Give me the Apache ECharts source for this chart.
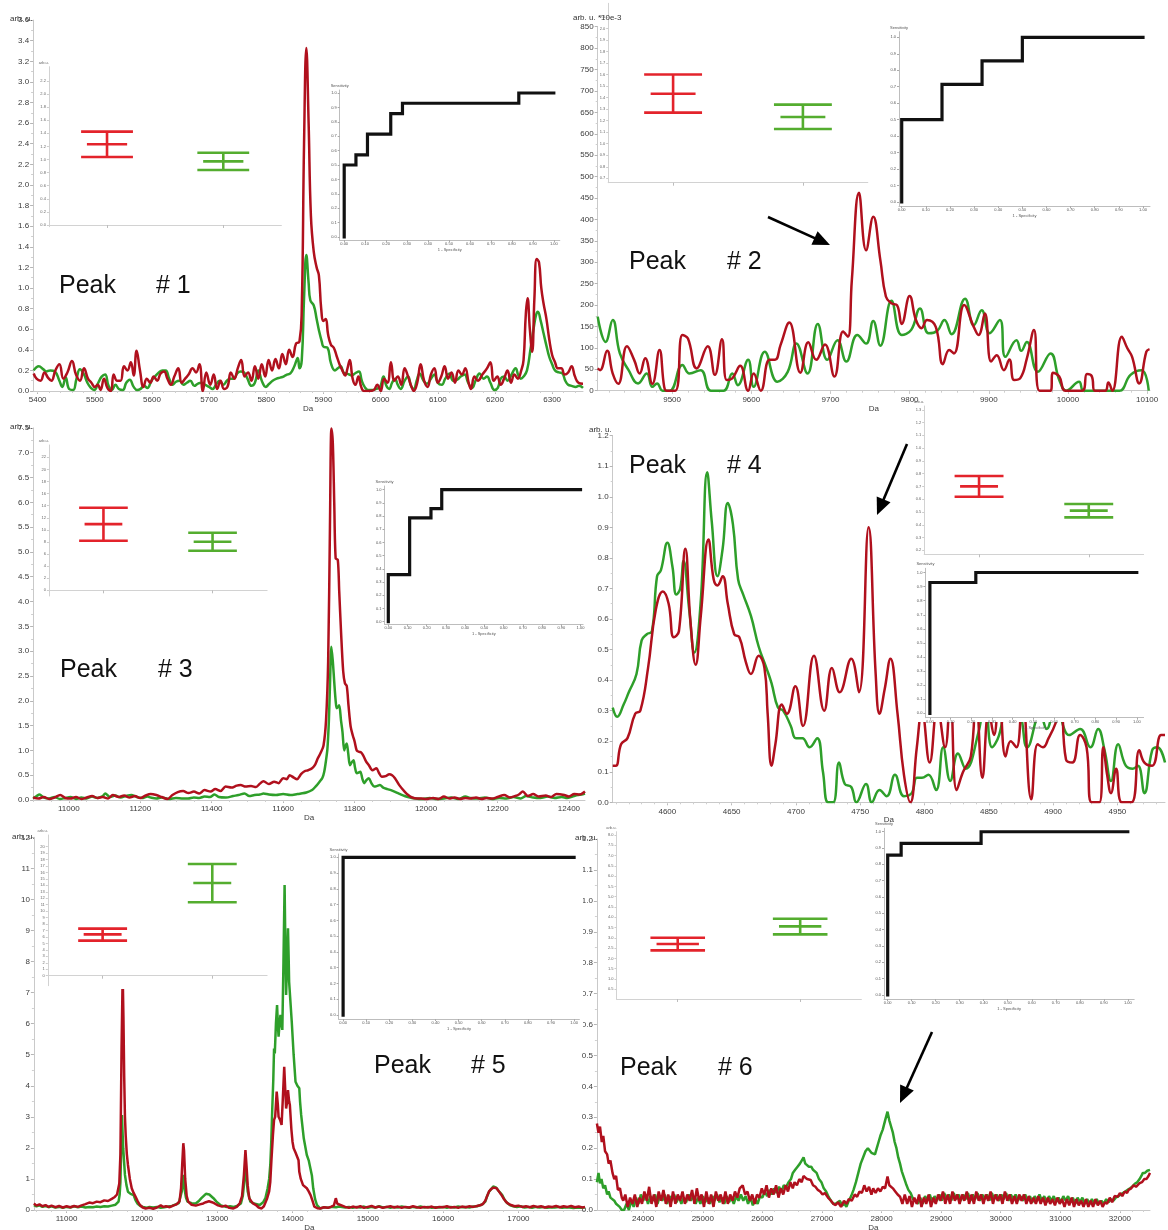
<!DOCTYPE html>
<html><head><meta charset="utf-8">
<script src="https://cdn.jsdelivr.net/npm/echarts@6/dist/echarts.min.js"></script>
<style>html,body{margin:0;padding:0;background:#fff}#c{width:1168px;height:1230px}</style>
</head><body><div id="c"></div>
<script>
// ---------------- DATA ----------------
const groups = ['1', '2'];
const rocTicks = [0,0.1,0.2,0.3,0.4,0.5,0.6,0.7,0.8,0.9,1.0];

// Panel 1
const p1XTicks = [5400,5500,5600,5700,5800,5900,6000,6100,6200,6300];
const p1Red = [[5393,0.17],[5398,0.12],[5405,0.10],[5412,0.18],[5418,0.13],[5424,0.10],[5431,0.20],[5438,0.26],[5445,0.12],[5452,0.18],[5460,0.29],[5467,0.16],[5474,0.10],[5481,0.22],[5488,0.12],[5494,0.08],[5500,0.04],[5505,0.06],[5510,0.01],[5516,0.12],[5522,0.03],[5528,0.00],[5533,0.16],[5539,0.10],[5545,0.10],[5551,0.24],[5557,0.20],[5563,0.28],[5568,0.15],[5573,0.39],[5579,0.20],[5585,0.04],[5591,0.12],[5597,0.08],[5603,0.14],[5609,0.10],[5615,0.17],[5621,0.19],[5627,0.12],[5633,0.06],[5639,0.14],[5646,0.22],[5652,0.08],[5658,0.12],[5664,0.16],[5671,0.22],[5677,0.18],[5683,0.26],[5689,0.00],[5695,0.18],[5702,0.06],[5708,0.16],[5714,0.02],[5720,0.10],[5726,0.02],[5732,0.04],[5738,0.18],[5744,0.12],[5750,0.22],[5756,0.30],[5762,0.14],[5768,0.18],[5774,0.10],[5780,0.24],[5786,0.12],[5792,0.26],[5798,0.14],[5804,0.30],[5810,0.20],[5816,0.31],[5822,0.22],[5828,0.36],[5834,0.26],[5840,0.40],[5846,0.33],[5852,0.46],[5858,0.48],[5862,0.80],[5866,2.40],[5870,3.33],[5874,2.60],[5878,1.70],[5883,1.35],[5888,1.20],[5892,1.12],[5896,0.80],[5900,0.68],[5904,0.70],[5908,0.55],[5913,0.45],[5918,0.42],[5923,0.34],[5928,0.26],[5933,0.20],[5938,0.15],[5942,0.22],[5946,0.30],[5951,0.12],[5956,0.06],[5961,0.14],[5966,0.04],[5971,0.00],[5980,0.00],[5988,0.01],[5994,0.06],[6000,0.00],[6006,0.12],[6012,0.08],[6018,0.28],[6024,0.10],[6030,0.14],[6036,0.06],[6042,0.22],[6048,0.14],[6054,0.04],[6058,0.00],[6064,0.08],[6070,0.26],[6076,0.10],[6082,0.04],[6088,0.16],[6094,0.22],[6100,0.08],[6106,0.14],[6112,0.24],[6118,0.12],[6124,0.18],[6130,0.08],[6136,0.20],[6142,0.16],[6148,0.22],[6154,0.08],[6158,0.02],[6164,0.14],[6170,0.10],[6178,0.16],[6186,0.22],[6192,0.28],[6198,0.10],[6204,0.14],[6210,0.06],[6216,0.12],[6222,0.20],[6228,0.08],[6234,0.16],[6240,0.12],[6246,0.20],[6250,0.30],[6254,0.75],[6257,0.90],[6261,0.60],[6265,0.38],[6269,0.90],[6273,1.28],[6277,1.25],[6281,1.00],[6285,0.85],[6290,0.70],[6295,0.50],[6300,0.35],[6305,0.28],[6310,0.22],[6316,0.22],[6322,0.16],[6328,0.18],[6334,0.24],[6340,0.14],[6346,0.08],[6354,0.07]];
const p1Green = [[5393,0.20],[5402,0.24],[5410,0.21],[5415,0.19],[5422,0.2],[5430,0.19],[5438,0.1],[5443,0.04],[5449,0.13],[5455,0.02],[5462,0.01],[5468,0.12],[5474,0.21],[5481,0.16],[5487,0.08],[5493,0.03],[5499,0.01],[5506,0.08],[5512,0.14],[5518,0.16],[5524,0.05],[5530,0.01],[5536,0.06],[5542,0.02],[5549,0.01],[5555,0.08],[5561,0.11],[5568,0.04],[5574,0.01],[5580,0.02],[5586,0.05],[5592,0.03],[5599,0.1],[5605,0.14],[5612,0.18],[5618,0.2],[5624,0.2],[5630,0.12],[5636,0.06],[5642,0.09],[5648,0.1],[5655,0.06],[5661,0.08],[5667,0.1],[5674,0.05],[5680,0.07],[5686,0.08],[5693,0.06],[5700,0.04],[5706,0.02],[5712,0.06],[5718,0.1],[5725,0.06],[5731,0.1],[5737,0.12],[5743,0.12],[5749,0.17],[5755,0.19],[5761,0.18],[5767,0.12],[5774,0.05],[5780,0.08],[5786,0.2],[5792,0.1],[5799,0.04],[5805,0.07],[5811,0.1],[5818,0.12],[5824,0.13],[5830,0.14],[5836,0.16],[5842,0.17],[5849,0.24],[5855,0.32],[5858,0.22],[5862,0.3],[5866,0.9],[5870,1.32],[5874,1.05],[5877,0.88],[5883,0.83],[5888,0.7],[5892,0.59],[5897,0.48],[5900,0.43],[5907,0.42],[5913,0.27],[5920,0.2],[5925,0.22],[5930,0.24],[5935,0.18],[5940,0.17],[5945,0.16],[5949,0.15],[5955,0.17],[5962,0.19],[5967,0.1],[5972,0.04],[5978,0.01],[5985,0.01],[5992,0.02],[5999,0.04],[6005,0.14],[6010,0.05],[6015,0.02],[6020,0.08],[6025,0.12],[6030,0.06],[6035,0.02],[6042,0.1],[6048,0.14],[6053,0.05],[6058,0.02],[6063,0.1],[6068,0.17],[6075,0.1],[6081,0.07],[6088,0.12],[6094,0.16],[6100,0.08],[6107,0.06],[6113,0.12],[6120,0.17],[6127,0.1],[6134,0.11],[6140,0.14],[6147,0.16],[6153,0.08],[6160,0.03],[6166,0.1],[6173,0.17],[6180,0.12],[6186,0.14],[6192,0.08],[6199,0.01],[6205,0.03],[6210,0.12],[6216,0.14],[6222,0.1],[6229,0.16],[6236,0.22],[6241,0.15],[6245,0.12],[6250,0.14],[6256,0.2],[6262,0.4],[6268,0.62],[6272,0.74],[6275,0.77],[6280,0.68],[6285,0.56],[6290,0.44],[6295,0.33],[6300,0.26],[6305,0.2],[6312,0.18],[6318,0.17],[6323,0.1],[6328,0.06],[6334,0.05],[6341,0.04],[6347,0.05],[6354,0.03]];
const err1Ticks = [0,0.2,0.4,0.6,0.8,1.0,1.2,1.4,1.6,1.8,2.0,2.2];
const err1Mean = [1.232, 0.972];
const err1Low = [1.038, 0.84];
const err1High = [1.425, 1.104];
const roc1 = [[0,0],[0,0.5],[0.056,0.5],[0.056,0.571],[0.111,0.571],[0.111,0.714],[0.222,0.714],[0.222,0.857],[0.278,0.857],[0.278,0.929],[0.833,0.929],[0.833,1],[1,1]];

// Panel 2
const p2XTicks = [9500,9600,9700,9800,9900,10000,10100];
const p2Red = [[9406,52],[9409,48],[9418,93],[9425,40],[9432,16],[9443,104],[9452,72],[9459,40],[9466,76],[9475,16],[9484,95],[9490,9],[9493,0],[9504,0],[9513,130],[9520,122],[9531,52],[9545,104],[9554,37],[9563,120],[9569,25],[9576,29],[9586,58],[9596,0],[9603,40],[9612,0],[9623,72],[9630,72],[9637,107],[9648,159],[9662,42],[9672,113],[9682,72],[9693,108],[9705,33],[9716,138],[9722,126],[9727,258],[9736,462],[9745,328],[9754,406],[9763,305],[9770,220],[9777,204],[9784,200],[9790,156],[9800,221],[9808,165],[9815,146],[9822,165],[9833,149],[9842,62],[9850,95],[9856,87],[9869,200],[9881,149],[9887,130],[9895,180],[9903,68],[9910,83],[9919,48],[9926,73],[9932,25],[9940,30],[9948,75],[9957,142],[9964,0],[9978,0],[9981,42],[9989,33],[9997,0],[10018,0],[10024,39],[10030,34],[10034,0],[10047,0],[10051,19],[10056,0],[10068,126],[10075,99],[10081,79],[10090,17],[10099,91],[10103,97]];
const p2Green = [[9406,173],[9416,114],[9425,165],[9434,87],[9445,48],[9457,17],[9468,40],[9475,9],[9481,17],[9488,0],[9497,0],[9513,60],[9522,40],[9536,48],[9549,0],[9565,0],[9576,40],[9583,13],[9596,72],[9603,9],[9617,91],[9633,21],[9646,44],[9657,110],[9671,40],[9684,156],[9696,72],[9709,118],[9720,68],[9734,130],[9745,110],[9754,163],[9763,105],[9777,210],[9790,130],[9802,142],[9813,192],[9824,134],[9835,140],[9844,165],[9853,132],[9870,215],[9881,153],[9891,188],[9901,134],[9914,165],[9921,79],[9935,118],[9941,93],[9948,114],[9962,44],[9978,87],[9989,25],[9998,0],[10014,21],[10020,0],[10052,0],[10065,0],[10079,37],[10093,48],[10102,0]];
const err2Ticks = [0.7,0.8,0.9,1.0,1.1,1.2,1.3,1.4,1.5,1.6,1.7,1.8,1.9,2.0,2.1];
const err2Mean = [1.434, 1.232];
const err2Low = [1.27, 1.128];
const err2High = [1.6, 1.339];
const roc2 = [[0,0],[0,0.5],[0.167,0.5],[0.167,0.714],[0.333,0.714],[0.333,0.857],[0.5,0.857],[0.5,1],[1,1]];

// Panel 3
const p3XTicks = [11000,11200,11400,11600,11800,12000,12200,12400];
const p3Red = [[10900,0.05],[10915,0.03],[10930,0.06],[10945,0.02],[10960,0.05],[10976,0.1],[10990,0.04],[11005,0.03],[11020,0.06],[11035,0.02],[11050,0.05],[11065,0.08],[11080,0.04],[11095,0.06],[11110,0.03],[11123,0.1],[11140,0.06],[11155,0.09],[11170,0.05],[11185,0.08],[11200,0.04],[11215,0.09],[11229,0.12],[11245,0.1],[11260,0.06],[11276,0.02],[11290,0.1],[11305,0.16],[11320,0.18],[11335,0.14],[11350,0.17],[11365,0.13],[11380,0.2],[11397,0.17],[11410,0.22],[11425,0.18],[11439,0.27],[11455,0.25],[11470,0.29],[11481,0.3],[11495,0.27],[11510,0.28],[11524,0.26],[11535,0.33],[11545,0.38],[11560,0.32],[11575,0.37],[11587,0.34],[11600,0.44],[11610,0.42],[11618,0.5],[11630,0.45],[11639,0.42],[11650,0.52],[11660,0.58],[11670,0.6],[11681,0.64],[11690,0.72],[11697,0.84],[11705,0.95],[11713,1.1],[11720,1.6],[11726,2.8],[11731,5.5],[11735,7.49],[11739,7.2],[11743,6.0],[11747,4.87],[11753,4.84],[11757,4.2],[11762,3.4],[11768,2.6],[11773,2.35],[11778,2.3],[11783,1.9],[11789,1.48],[11795,1.3],[11800,1.18],[11806,1.0],[11813,0.97],[11818,0.96],[11824,0.9],[11832,0.78],[11840,0.7],[11850,0.6],[11861,0.64],[11868,0.55],[11876,0.47],[11887,0.48],[11897,0.52],[11905,0.5],[11913,0.44],[11925,0.3],[11940,0.17],[11950,0.1],[11961,0.05],[11975,0.03],[11987,0.03],[12000,0.02],[12020,0.04],[12035,0.02],[12050,0.07],[12065,0.03],[12080,0.05],[12095,0.02],[12110,0.04],[12124,0.03],[12140,0.05],[12155,0.02],[12170,0.04],[12185,0.03],[12200,0.06],[12219,0.1],[12235,0.05],[12250,0.08],[12260,0.11],[12271,0.17],[12285,0.08],[12300,0.12],[12315,0.07],[12335,0.09],[12350,0.06],[12365,0.12],[12387,0.1],[12400,0.07],[12415,0.12],[12430,0.11],[12445,0.17]];
const p3Green = [[10900,0.03],[10910,0.08],[10918,0.11],[10930,0.05],[10945,0.03],[10960,0.06],[10975,0.02],[10990,0.04],[11005,0.06],[11020,0.02],[11035,0.05],[11050,0.03],[11065,0.07],[11080,0.04],[11095,0.08],[11102,0.13],[11115,0.06],[11130,0.09],[11145,0.05],[11160,0.08],[11175,0.1],[11190,0.06],[11205,0.04],[11220,0.07],[11229,0.05],[11245,0.03],[11260,0.05],[11280,0.02],[11300,0.04],[11320,0.03],[11334,0.03],[11350,0.05],[11365,0.04],[11380,0.07],[11395,0.06],[11408,0.11],[11420,0.06],[11440,0.05],[11460,0.08],[11475,0.1],[11492,0.13],[11505,0.08],[11520,0.1],[11535,0.11],[11545,0.13],[11560,0.11],[11580,0.1],[11600,0.12],[11620,0.1],[11640,0.12],[11650,0.13],[11665,0.15],[11681,0.2],[11692,0.28],[11702,0.37],[11710,0.45],[11715,0.57],[11720,0.8],[11724,1.04],[11728,1.6],[11731,2.3],[11735,3.09],[11739,2.8],[11743,2.38],[11747,2.0],[11750,1.85],[11754,1.88],[11757,1.91],[11762,1.6],[11766,1.38],[11771,1.0],[11775,1.1],[11778,1.14],[11782,0.95],[11787,0.7],[11792,0.76],[11797,0.8],[11801,0.66],[11806,0.54],[11811,0.55],[11816,0.57],[11822,0.42],[11827,0.34],[11833,0.4],[11840,0.44],[11847,0.34],[11855,0.27],[11862,0.28],[11871,0.3],[11880,0.25],[11892,0.22],[11905,0.19],[11924,0.13],[11940,0.08],[11955,0.05],[11970,0.03],[11990,0.02],[12010,0.04],[12030,0.02],[12050,0.03],[12070,0.05],[12090,0.02],[12110,0.07],[12125,0.04],[12145,0.03],[12165,0.05],[12185,0.02],[12205,0.04],[12225,0.03],[12245,0.06],[12265,0.03],[12280,0.08],[12300,0.05],[12320,0.04],[12340,0.07],[12360,0.04],[12380,0.06],[12395,0.04],[12410,0.07],[12425,0.1],[12435,0.11],[12445,0.13]];
const err3Ticks = [0,2,4,6,8,10,12,14,16,18,20,22];
const err3Mean = [10.96, 8.04];
const err3Low = [8.21, 6.56];
const err3High = [13.66, 9.53];
const roc3 = [[0,0],[0,0.357],[0.111,0.357],[0.111,0.786],[0.222,0.786],[0.222,0.857],[0.278,0.857],[0.278,1],[1,1]];

// Panel 4
const p4XTicks = [4600,4650,4700,4750,4800,4850,4900,4950];
const p4Red = [[4557.5,0.12],[4560,0.12],[4564,0.19],[4569,0.21],[4575,0.29],[4579,0.30],[4585,0.44],[4591,0.63],[4596.5,0.69],[4601,0.65],[4605,0.54],[4609,0.56],[4614,0.83],[4618,0.59],[4622,0.45],[4626,0.61],[4632,0.86],[4636,0.73],[4639,0.71],[4643,0.74],[4647,0.65],[4652,0.55],[4656,0.54],[4661,0.46],[4665,0.42],[4671,0.48],[4675.5,0.44],[4678,0.29],[4681,0.12],[4684,0.19],[4689,0.32],[4693,0.29],[4699.5,0.38],[4705.5,0.25],[4714,0.48],[4722,0.3],[4728,0.44],[4734,0.36],[4743,0.47],[4749,0.36],[4756.5,0.9],[4762,0.42],[4765,0.29],[4769,0.37],[4773.5,0.47],[4779,0.29],[4784,0.09],[4789,0.0],[4794,0.18],[4798,0.3],[4804,0.13],[4810,0.31],[4816,0.18],[4820,0.35],[4825,0.04],[4830,0.1],[4836,0.15],[4840,0.35],[4845,0.08],[4850,0.3],[4854,0.22],[4858,0.35],[4863,0.15],[4867,0.2],[4871.5,0.18],[4876,0.35],[4883,0.01],[4888,0.19],[4892,0.18],[4896.5,0.21],[4902,0.26],[4906,0.32],[4910,0.14],[4915,0.13],[4921,0.22],[4926,0.18],[4930,0.0],[4936,0.0],[4939,0.18],[4942,0.09],[4945,0.03],[4949,0.11],[4953.5,0.0],[4961,0.0],[4967,0.17],[4971,0.13],[4977,0.12],[4984,0.22],[4987,0.22]];
const p4Green = [[4557.5,0.31],[4561,0.28],[4566,0.32],[4570,0.36],[4576,0.42],[4580,0.53],[4584,0.55],[4588,0.56],[4592,0.74],[4595,0.76],[4600,0.85],[4604,0.77],[4607,0.68],[4610,0.70],[4612.6,0.79],[4617,0.63],[4621,0.49],[4626,0.66],[4631,1.08],[4634.5,0.92],[4639,0.74],[4643,0.83],[4647,0.98],[4651,0.91],[4655,0.73],[4659,0.68],[4665,0.61],[4671,0.51],[4677,0.44],[4681,0.39],[4686,0.31],[4690,0.30],[4696,0.25],[4700,0.21],[4705,0.21],[4710.6,0.18],[4716.5,0.21],[4721,0.10],[4725,0.0],[4729,0.0],[4733.5,0.13],[4738,0.06],[4743,0.05],[4747,0.0],[4754.5,0.06],[4759,0.0],[4765,0.04],[4770.6,0.02],[4777,0.09],[4784,0.02],[4790,0.03],[4794,0.08],[4798,0.08],[4803,0.09],[4809,0.04],[4814.5,0.18],[4820,0.07],[4826,0.16],[4832,0.11],[4842,0.23],[4847,0.34],[4852.5,0.18],[4858,0.22],[4866,0.36],[4874,0.3],[4880,0.18],[4890,0.29],[4895,0.24],[4902,0.32],[4912.6,0.22],[4921,0.24],[4929,0.18],[4935,0.24],[4940,0.17],[4945,0.07],[4950.6,0.19],[4956.5,0.12],[4962,0.11],[4966,0.12],[4971,0.03],[4977,0.17],[4981,0.18],[4987,0.13]];
const err4Ticks = [0.2,0.3,0.4,0.5,0.6,0.7,0.8,0.9,1.0,1.1,1.2,1.3];
const err4Mean = [0.701, 0.511];
const err4Low = [0.620, 0.458];
const err4High = [0.782, 0.563];
const roc4 = [[0,0],[0,0.929],[0.222,0.929],[0.222,1],[1,1]];

// Panel 5
const p5XTicks = [11000,12000,13000,14000,15000,16000,17000];
const p5Red = [[10566,0.21],[10600,0.14],[10640,0.18],[10680,0.12],[10720,0.16],[10760,0.10],[10800,0.14],[10850,0.09],[10900,0.13],[10950,0.08],[11000,0.12],[11050,0.09],[11100,0.13],[11150,0.10],[11200,0.15],[11250,0.19],[11300,0.24],[11350,0.22],[11400,0.27],[11450,0.25],[11500,0.31],[11550,0.29],[11600,0.36],[11640,0.42],[11670,0.50],[11700,0.85],[11715,1.8],[11730,5.2],[11745,7.6],[11755,6.2],[11765,4.3],[11775,3.0],[11785,2.4],[11800,1.8],[11815,1.45],[11840,1.0],[11865,0.7],[11890,0.55],[11915,0.43],[11945,0.28],[11975,0.16],[12010,0.08],[12050,0.05],[12100,0.07],[12150,0.04],[12200,0.08],[12250,0.15],[12280,0.10],[12320,0.12],[12370,0.09],[12415,0.14],[12460,0.18],[12500,0.28],[12520,0.7],[12535,1.45],[12550,2.15],[12560,1.9],[12575,1.0],[12595,0.45],[12615,0.27],[12660,0.17],[12715,0.14],[12770,0.18],[12815,0.21],[12850,0.25],[12890,0.28],[12930,0.25],[12965,0.21],[13010,0.15],[13065,0.11],[13110,0.14],[13160,0.07],[13215,0.05],[13260,0.10],[13300,0.22],[13330,0.45],[13355,1.13],[13375,1.93],[13390,1.4],[13405,0.8],[13425,0.38],[13470,0.22],[13515,0.16],[13550,0.08],[13590,0.05],[13620,0.12],[13660,0.35],[13690,0.6],[13705,0.91],[13720,1.6],[13740,2.41],[13755,2.9],[13770,3.0],[13790,3.81],[13805,3.4],[13815,3.0],[13835,2.9],[13855,2.74],[13870,3.5],[13890,4.61],[13905,3.8],[13915,3.27],[13930,3.5],[13940,3.86],[13955,3.5],[13965,3.38],[13985,2.6],[14000,2.2],[14015,1.99],[14040,1.85],[14065,1.82],[14080,1.6],[14090,1.23],[14110,1.0],[14140,0.8],[14165,0.75],[14190,0.7],[14215,0.6],[14240,0.48],[14265,0.3],[14290,0.11],[14330,0.06],[14365,0.05],[14420,0.09],[14470,0.07],[14515,0.11],[14550,0.15],[14575,0.38],[14595,0.2],[14615,0.14],[14700,0.1],[14750,0.07],[14800,0.11],[14850,0.08],[14900,0.12],[14950,0.07],[15000,0.1],[15050,0.13],[15100,0.08],[15150,0.11],[15200,0.07],[15250,0.1],[15300,0.12],[15350,0.08],[15400,0.11],[15450,0.07],[15500,0.1],[15550,0.08],[15600,0.12],[15650,0.09],[15700,0.07],[15750,0.1],[15800,0.08],[15850,0.11],[15900,0.07],[15950,0.1],[16000,0.09],[16050,0.12],[16100,0.08],[16150,0.1],[16200,0.07],[16250,0.11],[16300,0.09],[16350,0.12],[16400,0.1],[16450,0.13],[16500,0.16],[16530,0.2],[16560,0.3],[16585,0.45],[16610,0.6],[16640,0.68],[16670,0.72],[16690,0.75],[16710,0.7],[16740,0.6],[16770,0.5],[16800,0.38],[16830,0.28],[16860,0.21],[16900,0.16],[16950,0.12],[17000,0.14],[17050,0.1],[17100,0.12],[17150,0.09],[17200,0.13],[17250,0.1],[17300,0.12],[17350,0.08],[17400,0.11],[17450,0.1],[17500,0.13],[17550,0.09],[17600,0.12],[17650,0.1],[17700,0.13],[17750,0.09],[17800,0.11],[17850,0.08],[17884,0.1]];
const p5Green = [[10566,0.16],[10600,0.12],[10640,0.15],[10680,0.1],[10720,0.13],[10760,0.09],[10800,0.12],[10850,0.08],[10900,0.1],[10950,0.07],[11000,0.1],[11050,0.08],[11100,0.12],[11150,0.09],[11200,0.11],[11250,0.08],[11300,0.1],[11350,0.09],[11400,0.11],[11450,0.1],[11500,0.12],[11550,0.11],[11600,0.14],[11650,0.17],[11690,0.27],[11705,0.5],[11715,0.9],[11725,2.0],[11735,3.06],[11745,2.4],[11752,1.99],[11765,1.5],[11775,1.13],[11795,0.8],[11815,0.59],[11850,0.52],[11890,0.48],[11915,0.32],[11940,0.21],[11980,0.13],[12015,0.1],[12060,0.07],[12100,0.1],[12150,0.08],[12200,0.1],[12250,0.07],[12300,0.09],[12350,0.11],[12400,0.13],[12450,0.18],[12490,0.22],[12515,0.27],[12530,0.6],[12545,1.13],[12555,1.1],[12565,0.7],[12585,0.4],[12605,0.27],[12660,0.22],[12715,0.21],[12760,0.3],[12790,0.38],[12815,0.43],[12850,0.52],[12875,0.57],[12895,0.5],[12915,0.5],[12950,0.38],[12990,0.27],[13050,0.15],[13115,0.1],[13170,0.12],[13220,0.1],[13270,0.14],[13315,0.21],[13340,0.45],[13355,0.8],[13375,1.45],[13390,1.0],[13405,0.6],[13440,0.27],[13500,0.2],[13565,0.16],[13610,0.25],[13640,0.38],[13670,0.7],[13690,1.0],[13705,1.45],[13718,2.2],[13730,3.17],[13745,4.2],[13755,5.2],[13765,5.04],[13780,6.0],[13795,6.6],[13805,6.0],[13815,5.58],[13828,6.0],[13840,6.28],[13852,6.0],[13865,5.8],[13880,8.0],[13895,10.46],[13905,8.5],[13915,6.92],[13928,8.0],[13940,9.07],[13950,8.0],[13955,7.35],[13970,6.8],[13990,6.06],[14015,5.0],[14040,4.13],[14065,4.0],[14090,3.92],[14100,3.5],[14115,3.06],[14150,2.3],[14190,1.77],[14215,1.6],[14240,1.56],[14258,1.1],[14275,0.7],[14300,0.35],[14325,0.16],[14365,0.05],[14420,0.09],[14470,0.07],[14530,0.1],[14580,0.09],[14615,0.11],[14700,0.08],[14750,0.1],[14800,0.07],[14850,0.1],[14900,0.08],[14950,0.11],[15000,0.07],[15050,0.1],[15100,0.08],[15150,0.12],[15200,0.08],[15250,0.1],[15300,0.07],[15350,0.1],[15400,0.08],[15450,0.11],[15500,0.09],[15550,0.07],[15600,0.1],[15650,0.08],[15700,0.11],[15750,0.08],[15800,0.1],[15850,0.07],[15900,0.09],[15950,0.08],[16000,0.1],[16050,0.07],[16100,0.1],[16150,0.08],[16200,0.11],[16250,0.09],[16300,0.1],[16350,0.08],[16400,0.11],[16450,0.12],[16500,0.16],[16530,0.2],[16560,0.27],[16585,0.45],[16610,0.59],[16640,0.68],[16665,0.76],[16685,0.8],[16705,0.72],[16735,0.62],[16760,0.55],[16785,0.48],[16810,0.36],[16840,0.25],[16885,0.16],[16930,0.12],[16980,0.1],[17030,0.12],[17080,0.08],[17130,0.1],[17180,0.07],[17230,0.1],[17280,0.08],[17330,0.1],[17380,0.07],[17430,0.09],[17480,0.08],[17530,0.1],[17580,0.07],[17630,0.09],[17680,0.08],[17730,0.06],[17780,0.08],[17830,0.07],[17884,0.08]];
const err5Ticks = [0,1,2,3,4,5,6,7,8,9,10,11,12,13,14,15,16,17,18,19,20];
const err5Mean = [6.41, 14.37];
const err5Low = [5.43, 11.37];
const err5High = [7.29, 17.31];
const roc5 = [[0,0],[0,1],[1,1]];

// Panel 6
const p6XTicks = [24000,25000,26000,27000,28000,29000,30000,31000,32000];
const p6Red = [[23223,0.28],[23250,0.25],[23275,0.27],[23305,0.22],[23330,0.24],[23360,0.19],[23395,0.18],[23420,0.15],[23450,0.16],[23485,0.12],[23515,0.1],[23545,0.11],[23575,0.065],[23610,0.07],[23640,0.04],[23665,0.03],[23700,0.05],[23740,0.01],[23780,0.04],[23820,0.02],[23860,0.05],[23900,0.01],[23940,0.04],[23980,0.02],[24020,0.06],[24060,0.03],[24100,0.075],[24140,0.02],[24180,0.05],[24220,0.01],[24260,0.06],[24300,0.03],[24340,0.065],[24380,0.02],[24420,0.05],[24460,0.01],[24500,0.06],[24540,0.02],[24580,0.05],[24620,0.03],[24660,0.06],[24700,0.02],[24740,0.05],[24780,0.03],[24820,0.065],[24860,0.02],[24900,0.07],[24940,0.03],[24980,0.05],[25020,0.01],[25060,0.06],[25100,0.02],[25140,0.05],[25180,0.01],[25220,0.06],[25260,0.03],[25300,0.05],[25340,0.02],[25380,0.06],[25420,0.02],[25460,0.05],[25500,0.03],[25540,0.06],[25580,0.04],[25620,0.07],[25670,0.08],[25710,0.05],[25750,0.06],[25790,0.03],[25830,0.05],[25870,0.02],[25910,0.05],[25950,0.04],[25990,0.07],[26030,0.05],[26070,0.08],[26110,0.04],[26150,0.07],[26190,0.05],[26230,0.08],[26270,0.04],[26310,0.07],[26350,0.05],[26391,0.08],[26430,0.06],[26470,0.09],[26510,0.07],[26540,0.09],[26580,0.08],[26620,0.1],[26660,0.09],[26690,0.11],[26721,0.113],[26750,0.1],[26780,0.105],[26811,0.097],[26850,0.08],[26890,0.075],[26931,0.065],[26970,0.06],[27010,0.05],[27050,0.055],[27110,0.038],[27150,0.03],[27190,0.02],[27230,0.016],[27270,0.025],[27320,0.01],[27370,0.03],[27410,0.02],[27450,0.035],[27500,0.03],[27550,0.05],[27590,0.043],[27630,0.06],[27670,0.055],[27710,0.08],[27750,0.06],[27790,0.075],[27830,0.05],[27860,0.07],[27900,0.055],[27940,0.07],[27980,0.06],[28020,0.075],[28060,0.07],[28100,0.108],[28130,0.08],[28160,0.085],[28190,0.07],[28230,0.06],[28270,0.05],[28310,0.043],[28350,0.02],[28390,0.05],[28430,0.02],[28470,0.045],[28510,0.01],[28550,0.04],[28590,0.02],[28630,0.05],[28670,0.01],[28710,0.04],[28750,0.02],[28790,0.05],[28830,0.01],[28870,0.04],[28910,0.02],[28950,0.05],[28990,0.03],[29030,0.06],[29070,0.02],[29110,0.05],[29150,0.02],[29190,0.06],[29230,0.03],[29270,0.05],[29310,0.02],[29350,0.05],[29390,0.03],[29430,0.06],[29470,0.02],[29510,0.05],[29550,0.02],[29590,0.06],[29630,0.03],[29670,0.05],[29710,0.02],[29750,0.05],[29790,0.03],[29830,0.06],[29870,0.02],[29910,0.05],[29950,0.03],[29990,0.05],[30030,0.02],[30070,0.06],[30110,0.03],[30150,0.05],[30190,0.02],[30230,0.045],[30270,0.02],[30310,0.05],[30350,0.03],[30390,0.05],[30430,0.02],[30470,0.045],[30510,0.02],[30550,0.04],[30590,0.02],[30630,0.045],[30670,0.02],[30710,0.04],[30750,0.015],[30790,0.04],[30830,0.02],[30870,0.035],[30910,0.015],[30950,0.04],[30990,0.02],[31030,0.035],[31070,0.01],[31110,0.035],[31150,0.015],[31190,0.04],[31230,0.01],[31270,0.035],[31310,0.015],[31350,0.03],[31390,0.01],[31430,0.035],[31470,0.01],[31510,0.03],[31550,0.01],[31590,0.035],[31630,0.015],[31670,0.03],[31710,0.01],[31750,0.025],[31785,0.02],[31830,0.04],[31870,0.025],[31910,0.045],[31965,0.043],[32000,0.055],[32040,0.045],[32080,0.06],[32120,0.055],[32145,0.065],[32190,0.07],[32230,0.08],[32270,0.075],[32325,0.086],[32370,0.09],[32410,0.1],[32445,0.1],[32480,0.11],[32505,0.12]];
const p6Green = [[23223,0.09],[23250,0.12],[23275,0.086],[23300,0.1],[23330,0.07],[23360,0.08],[23395,0.05],[23420,0.06],[23450,0.04],[23480,0.045],[23515,0.03],[23545,0.02],[23575,0.025],[23605,0.01],[23640,0.0],[23680,0.0],[23720,0.02],[23760,0.0],[23800,0.03],[23840,0.01],[23880,0.04],[23920,0.02],[23960,0.05],[24000,0.03],[24040,0.05],[24080,0.02],[24120,0.045],[24160,0.03],[24200,0.05],[24240,0.02],[24280,0.045],[24320,0.03],[24360,0.05],[24400,0.02],[24440,0.045],[24480,0.03],[24520,0.05],[24560,0.025],[24600,0.045],[24640,0.02],[24680,0.04],[24720,0.025],[24760,0.05],[24800,0.03],[24840,0.045],[24880,0.02],[24920,0.04],[24960,0.02],[25000,0.045],[25040,0.025],[25080,0.04],[25120,0.02],[25160,0.045],[25200,0.03],[25240,0.05],[25280,0.025],[25320,0.04],[25360,0.02],[25400,0.045],[25440,0.025],[25480,0.04],[25520,0.02],[25560,0.045],[25600,0.03],[25640,0.05],[25680,0.03],[25720,0.045],[25760,0.02],[25800,0.04],[25840,0.015],[25880,0.035],[25920,0.02],[25960,0.045],[26000,0.04],[26040,0.06],[26080,0.045],[26120,0.065],[26160,0.05],[26200,0.07],[26240,0.055],[26280,0.075],[26320,0.06],[26360,0.08],[26400,0.075],[26440,0.09],[26480,0.1],[26511,0.12],[26550,0.13],[26590,0.14],[26630,0.15],[26660,0.16],[26691,0.17],[26720,0.15],[26750,0.145],[26781,0.14],[26820,0.14],[26850,0.13],[26871,0.135],[26910,0.12],[26950,0.1],[26991,0.09],[27030,0.07],[27070,0.06],[27110,0.043],[27150,0.03],[27190,0.02],[27230,0.02],[27260,0.016],[27300,0.03],[27340,0.015],[27380,0.02],[27410,0.01],[27450,0.03],[27490,0.045],[27530,0.065],[27570,0.09],[27610,0.12],[27650,0.15],[27690,0.17],[27730,0.19],[27770,0.2],[27800,0.2],[27830,0.185],[27860,0.19],[27890,0.18],[27920,0.2],[27950,0.22],[27980,0.24],[28020,0.26],[28060,0.29],[28100,0.318],[28130,0.29],[28160,0.27],[28190,0.25],[28220,0.22],[28250,0.2],[28280,0.17],[28310,0.15],[28340,0.125],[28370,0.108],[28410,0.085],[28450,0.065],[28490,0.054],[28530,0.035],[28570,0.03],[28610,0.02],[28650,0.04],[28690,0.02],[28730,0.045],[28770,0.03],[28810,0.05],[28850,0.025],[28890,0.045],[28930,0.03],[28970,0.05],[29010,0.03],[29050,0.055],[29090,0.035],[29130,0.05],[29170,0.03],[29210,0.055],[29250,0.035],[29290,0.05],[29330,0.03],[29370,0.05],[29410,0.035],[29450,0.055],[29490,0.03],[29530,0.05],[29570,0.035],[29610,0.055],[29650,0.03],[29690,0.05],[29730,0.035],[29770,0.05],[29810,0.03],[29850,0.055],[29890,0.035],[29930,0.05],[29970,0.03],[30010,0.05],[30050,0.035],[30090,0.055],[30130,0.03],[30170,0.05],[30210,0.035],[30250,0.05],[30290,0.03],[30330,0.045],[30370,0.03],[30410,0.05],[30450,0.03],[30490,0.045],[30530,0.025],[30570,0.045],[30610,0.03],[30650,0.05],[30690,0.03],[30730,0.045],[30770,0.025],[30810,0.045],[30850,0.03],[30890,0.045],[30930,0.025],[30970,0.04],[31010,0.025],[31050,0.045],[31090,0.03],[31130,0.045],[31170,0.025],[31210,0.04],[31250,0.02],[31290,0.04],[31330,0.025],[31370,0.04],[31410,0.02],[31450,0.035],[31490,0.02],[31530,0.035],[31570,0.02],[31610,0.035],[31650,0.02],[31690,0.03],[31730,0.02],[31770,0.035],[31810,0.025],[31850,0.035],[31890,0.03],[31930,0.04],[31965,0.043],[32010,0.05],[32050,0.055],[32090,0.06],[32130,0.065],[32170,0.07],[32205,0.075],[32250,0.085],[32290,0.09],[32330,0.1],[32360,0.11],[32385,0.12],[32420,0.12],[32460,0.127],[32505,0.13]];
const err6Ticks = [0.5,1.0,1.5,2.0,2.5,3.0,3.5,4.0,4.5,5.0,5.5,6.0,6.5,7.0,7.5,8.0];
const err6Mean = [2.70, 3.558];
const err6Low = [2.393, 3.17];
const err6High = [3.008, 3.93];
const roc6 = [[0,0],[0,0.857],[0.056,0.857],[0.056,0.929],[0.389,0.929],[0.389,1],[1,1]];

// ---------------- BUILD ----------------
const FONT = 'Liberation Sans, Arial, sans-serif';
const RED = '#b0101d', GREEN = '#2e9f2a';
const BAR_COLORS = ['#e3232b', '#54ad2f'];
const grids = [], xAxes = [], yAxes = [], series = [], graphics = [];
const f1 = v => v.toFixed(1), f2 = v => v.toFixed(2), f0 = v => String(Math.round(v));

function minorValues(min, max, step) {
  const out = [];
  for (let v = Math.ceil(min / step) * step; v <= max; v += step) out.push(v);
  return out;
}

function addMain(p, red, green, xTicks, smooth) {
  const gi = grids.length;
  grids.push({left: p.left, top: p.top, width: p.width, height: p.height, containLabel: false, outerBoundsMode: 'none'});
  xAxes.push({type: 'value', gridIndex: gi, min: p.xMin, max: p.xMax,
    axisLine: {show: true, onZero: false, lineStyle: {color: '#c9c9c9', width: 1}},
    axisTick: {show: true, customValues: xTicks, length: 3, lineStyle: {color: '#b5b5b5'}},
    axisLabel: {customValues: xTicks, fontSize: 8, color: '#3a3a3a', fontFamily: FONT, margin: 5, formatter: f0},
    splitLine: {show: false},
    name: 'Da', nameLocation: 'middle', nameGap: 12,
    nameTextStyle: {fontSize: 8, color: '#3a3a3a', fontFamily: FONT}});
  // minor ticks on the x axis (no labels, no line)
  const mgi = gi;
  xAxes.push({type: 'value', gridIndex: mgi, min: p.xMin, max: p.xMax, position: 'bottom',
    axisLine: {show: false, onZero: false},
    axisTick: {show: true, customValues: minorValues(p.xMin, p.xMax, p.xMinor), length: 2, lineStyle: {color: '#cfcfcf'}},
    axisLabel: {show: false}, splitLine: {show: false}});
  yAxes.push({type: 'value', gridIndex: gi, min: 0, max: p.yMax, interval: p.yInt,
    axisLine: {show: true, lineStyle: {color: '#c9c9c9', width: 1}},
    axisTick: {show: true, length: 3, lineStyle: {color: '#b5b5b5'}},
    minorTick: {show: true, splitNumber: p.minor, length: 2, lineStyle: {color: '#cfcfcf'}},
    axisLabel: {fontSize: 8, color: '#3a3a3a', fontFamily: FONT, margin: 4, formatter: p.fmt},
    splitLine: {show: false}, minorSplitLine: {show: false}});
  const xi = xAxes.length - 2, yi = yAxes.length - 1;
  series.push({type: 'line', xAxisIndex: xi, yAxisIndex: yi, data: green, showSymbol: false, smooth: smooth,
    lineStyle: {color: GREEN, width: 2.5}, itemStyle: {color: GREEN}, z: 2, silent: true});
  series.push({type: 'line', xAxisIndex: xi, yAxisIndex: yi, data: red, showSymbol: false, smooth: smooth,
    lineStyle: {color: RED, width: 2.5}, itemStyle: {color: RED}, z: 3, silent: true});
}

function addErr(p, ticks, low, mean, high, fmt) {
  const gi = grids.length;
  grids.push({left: p.left, top: p.top, width: p.width, height: p.height, containLabel: false, outerBoundsMode: 'none'});
  graphics.push({type: 'rect', shape: {x: p.bx, y: p.by, width: p.bw, height: p.bh}, style: {fill: '#ffffff'}, z: 10, silent: true});
  xAxes.push({type: 'category', gridIndex: gi, data: groups, boundaryGap: true, z: 20,
    axisLine: {show: true, lineStyle: {color: '#d2d2d2'}},
    axisTick: {show: true, alignWithLabel: true, length: 3, lineStyle: {color: '#bdbdbd'}},
    axisLabel: {show: false}, splitLine: {show: false}});
  yAxes.push({type: 'value', gridIndex: gi, min: p.yMin, max: p.yMax, z: 20,
    axisLine: {show: true, lineStyle: {color: '#d2d2d2'}},
    axisTick: {show: true, customValues: ticks, length: 2, lineStyle: {color: '#cccccc'}},
    axisLabel: {customValues: ticks, fontSize: 4, color: '#666', fontFamily: FONT, margin: 3, formatter: fmt},
    splitLine: {show: false},
    name: 'arb.u.', nameLocation: 'end', nameGap: 2, nameTextStyle: {fontSize: 4, color: '#666', align: 'right'}});
  const xi = xAxes.length - 1, yi = yAxes.length - 1;
  series.push({type: 'custom', xAxisIndex: xi, yAxisIndex: yi, z: 21, silent: true,
    data: low.map((l, i) => [i, l, mean[i], high[i]]),
    encode: {x: 0, y: [1, 2, 3]},
    renderItem: function (params, api) {
      const x = api.value(0);
      const pLo = api.coord([x, api.value(1)]);
      const pMid = api.coord([x, api.value(2)]);
      const pHi = api.coord([x, api.value(3)]);
      const band = api.size([1, 0])[0];
      const cap = band * 0.223, mw = band * 0.173;
      const col = BAR_COLORS[params.dataIndex];
      const st = {stroke: col, lineWidth: 2.6};
      return {type: 'group', children: [
        {type: 'line', shape: {x1: pHi[0] - cap, y1: pHi[1], x2: pHi[0] + cap, y2: pHi[1]}, style: st},
        {type: 'line', shape: {x1: pLo[0] - cap, y1: pLo[1], x2: pLo[0] + cap, y2: pLo[1]}, style: st},
        {type: 'line', shape: {x1: pMid[0] - mw, y1: pMid[1], x2: pMid[0] + mw, y2: pMid[1]}, style: st},
        {type: 'line', shape: {x1: pHi[0], y1: pHi[1], x2: pLo[0], y2: pLo[1]}, style: st}
      ]};
    }});
}

function addRoc(p, roc) {
  const gi = grids.length;
  grids.push({left: p.left, top: p.top, width: p.width, height: p.height, containLabel: false, outerBoundsMode: 'none'});
  graphics.push({type: 'rect', shape: {x: p.bx, y: p.by, width: p.bw, height: p.bh}, style: {fill: '#ffffff'}, z: 10, silent: true});
  xAxes.push({type: 'value', gridIndex: gi, min: p.xMin, max: p.xMax, z: 20,
    axisLine: {show: true, onZero: false, lineStyle: {color: '#bdbdbd'}},
    axisTick: {show: true, customValues: rocTicks, length: 2, lineStyle: {color: '#aaaaaa'}},
    axisLabel: {customValues: rocTicks, fontSize: 4, color: '#555', fontFamily: FONT, margin: 2, formatter: f2},
    splitLine: {show: false},
    name: '1 - Specificity', nameLocation: 'middle', nameGap: 8, nameTextStyle: {fontSize: 4, color: '#555'}});
  yAxes.push({type: 'value', gridIndex: gi, min: p.yMin, max: p.yMax, z: 20,
    axisLine: {show: true, onZero: false, lineStyle: {color: '#bdbdbd'}},
    axisTick: {show: true, customValues: rocTicks, length: 2, lineStyle: {color: '#aaaaaa'}},
    axisLabel: {customValues: rocTicks, fontSize: 4, color: '#555', fontFamily: FONT, margin: 3, formatter: f1},
    splitLine: {show: false},
    name: 'Sensitivity', nameLocation: 'end', nameGap: 2, nameTextStyle: {fontSize: 4, color: '#555', align: 'center'}});
  const xi = xAxes.length - 1, yi = yAxes.length - 1;
  series.push({type: 'line', xAxisIndex: xi, yAxisIndex: yi, data: roc, showSymbol: false, z: 21, silent: true,
    lineStyle: {color: '#111111', width: 3.2, join: 'miter', cap: 'square'}, itemStyle: {color: '#111'}});
}

function text(t, x, y, size, color) {
  graphics.push({type: 'text', x: x, y: y, z: 30, silent: true,
    style: {text: t, fontSize: size, fontFamily: FONT, fill: color || '#111', align: 'left', verticalAlign: 'middle'}});
}
function arrow(x1, y1, x2, y2) {
  const dx = x2 - x1, dy = y2 - y1, L = Math.hypot(dx, dy), ux = dx / L, uy = dy / L;
  const hl = 17, hw = 7.5, bx = x2 - ux * hl, by = y2 - uy * hl;
  graphics.push({type: 'line', z: 30, silent: true, shape: {x1: x1, y1: y1, x2: bx + ux * 2, y2: by + uy * 2}, style: {stroke: '#000', lineWidth: 2.6}});
  graphics.push({type: 'polygon', z: 30, silent: true, shape: {points: [[x2, y2], [bx - uy * hw, by + ux * hw], [bx + uy * hw, by - ux * hw]]}, style: {fill: '#000'}});
}

// Panel 1
addMain({left: 33.1, top: 20.1, width: 549.9, height: 370.9, xMin: 5392, xMax: 6354, xMinor: 20, yMax: 3.6, yInt: 0.2, minor: 2, fmt: f1}, p1Red, p1Green, p1XTicks, 0.45);
addErr({left: 48.9, top: 66.7, width: 232.5, height: 160, yMin: -0.026, yMax: 2.417, bx: 36, by: 61, bw: 247, bh: 169}, err1Ticks, err1Low, err1Mean, err1High, f1);
addRoc({left: 339.7, top: 90, width: 220.1, height: 150, xMin: -0.0215, xMax: 1.0286, yMin: -0.021, yMax: 1.021, bx: 326, by: 85, bw: 237, bh: 164}, roc1);
// Panel 2
addMain({left: 597.7, top: 26.7, width: 552.3, height: 364, xMin: 9406, xMax: 10103.6, xMinor: 20, yMax: 850, yInt: 50, minor: 2, fmt: f0}, p2Red, p2Green, p2XTicks, 0.45);
addErr({left: 608.2, top: 3.3, width: 259.6, height: 179.4, yMin: 0.662, yMax: 2.218, bx: 600, by: 0, bw: 270, bh: 186}, err2Ticks, err2Low, err2Mean, err2High, f1);
addRoc({left: 899, top: 31.7, width: 251, height: 174.3, xMin: -0.0112, xMax: 1.029, yMin: -0.0243, yMax: 1.034, bx: 886, by: 27, bw: 266, bh: 189}, roc2);
// Panel 3
addMain({left: 33.1, top: 427.9, width: 551.9, height: 372.1, xMin: 10900, xMax: 12445, xMinor: 50, yMax: 7.5, yInt: 0.5, minor: 2, fmt: f1}, p3Red, p3Green, p3XTicks, 0.3);
addErr({left: 48.9, top: 445, width: 218.2, height: 151, yMin: -0.94, yMax: 24.05, bx: 36, by: 440, bw: 233, bh: 159}, err3Ticks, err3Low, err3Mean, err3High, f0);
addRoc({left: 384.5, top: 486, width: 198.6, height: 138.3, xMin: -0.0198, xMax: 1.0135, yMin: -0.0197, yMax: 1.028, bx: 372, by: 481, bw: 213, bh: 152}, roc3);
// Panel 4
addMain({left: 612.7, top: 435.7, width: 552.3, height: 366.6, xMin: 4557.5, xMax: 4987, xMinor: 10, yMax: 1.2, yInt: 0.1, minor: 2, fmt: f1}, p4Red, p4Green, p4XTicks, 0.45);
addErr({left: 924.2, top: 406, width: 219.4, height: 148.3, yMin: 0.169, yMax: 1.33, bx: 912, by: 407, bw: 234, bh: 150}, err4Ticks, err4Low, err4Mean, err4High, f1);
addRoc({left: 925.4, top: 568.3, width: 218.2, height: 149.4, xMin: -0.0217, xMax: 1.033, yMin: -0.031, yMax: 1.03, bx: 916, by: 563, bw: 230, bh: 159}, roc4);
// Panel 5
addMain({left: 33.9, top: 837.3, width: 551.1, height: 372.7, xMin: 10566, xMax: 17884, xMinor: 200, yMax: 12, yInt: 1, minor: 2, fmt: f0}, p5Red, p5Green, p5XTicks, false);
addErr({left: 47.8, top: 835, width: 219.3, height: 150.7, yMin: -1.55, yMax: 21.8, bx: 36, by: 831, bw: 233, bh: 158}, err5Ticks, err5Low, err5Mean, err5High, f0);
addRoc({left: 338.6, top: 854, width: 240.8, height: 165, xMin: -0.0195, xMax: 1.023, yMin: -0.025, yMax: 1.021, bx: 325, by: 849, bw: 258, bh: 181}, roc5);
// Panel 6
addMain({left: 596.9, top: 839, width: 553.1, height: 371, xMin: 23223, xMax: 32505, xMinor: 200, yMax: 1.2, yInt: 0.1, minor: 2, fmt: f1}, p6Red, p6Green, p6XTicks, false);
addErr({left: 616.5, top: 831.7, width: 244.9, height: 167.3, yMin: 0.028, yMax: 8.16, bx: 600, by: 827, bw: 264, bh: 175}, err6Ticks, err6Low, err6Mean, err6High, f1);
addRoc({left: 884, top: 828.3, width: 250.2, height: 170.7, xMin: -0.0154, xMax: 1.0267, yMin: -0.0245, yMax: 1.021, bx: 871, by: 824, bw: 266, bh: 186}, roc6);

// Axis unit labels
text('arb. u.', 10, 19, 8, '#333');
text('arb. u. *10e-3', 573, 18, 8, '#333');
text('arb. u.', 10, 427, 8, '#333');
text('arb. u.', 589, 430, 8, '#333');
text('arb. u.', 12, 837, 8, '#333');
text('arb. u.', 575, 838, 8, '#333');

// Peak labels
const peakPos = [[59, 286, 156], [629, 262, 727], [60, 670, 158], [629, 466, 727], [374, 1066, 471], [620, 1068, 718]];
peakPos.forEach((p, i) => { text('Peak', p[0], p[1], 25, '#111'); text('# ' + (i + 1), p[2], p[1], 25, '#111'); });

// Arrows
arrow(768, 217, 830, 245);
arrow(907, 444, 877, 515);
arrow(932, 1032, 900, 1103);

const chart = echarts.init(document.getElementById('c'), null, {renderer: 'canvas'});
chart.setOption({
  animation: false,
  backgroundColor: '#ffffff',
  grid: grids, xAxis: xAxes, yAxis: yAxes, series: series,
  graphic: {elements: graphics}
});
</script></body></html>
